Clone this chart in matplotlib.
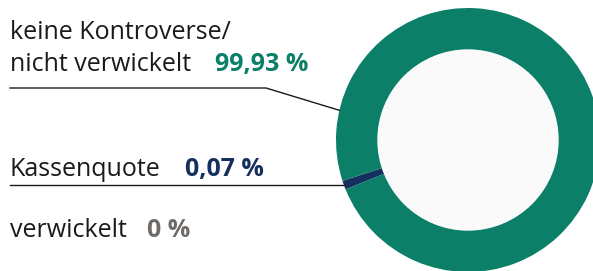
import numpy as np
import matplotlib.pyplot as plt
from matplotlib.patches import Circle

# Daten
labels = ["keine Kontroverse/\nnicht verwickelt", "Kassenquote", "verwickelt"]
values = [99.93, 0.07, 0.0]
colors = ["#0b7f67", "#15305e", "#706b66"]

W, H = 593, 271
plt.rcParams['font.family'] = ['Open Sans', 'DejaVu Sans']

fig = plt.figure(figsize=(W / 100, H / 100), dpi=100)
ax = fig.add_axes([0, 0, 1, 1])

cx, cy = 468, H - 140
r_out, r_in = 132, 90

# sehr kleine Segmente sichtbar machen (mind. ~4 Grad)
min_share = 1.1
shown = [max(v, min_share) if v > 0 else 0 for v in values]
blue_angle = 200
start = blue_angle - shown[1] / sum(shown) * 360 / 2
order = [1, 0]
ax.pie([shown[i] for i in order], colors=[colors[i] for i in order],
       startangle=start, counterclock=True, center=(cx, cy), radius=r_out,
       wedgeprops=dict(width=r_out - r_in, linewidth=0))
ax.add_patch(Circle((cx, cy), r_in, color="#fafafa", zorder=3))

ax.set_xlim(0, W)
ax.set_ylim(0, H)
ax.set_aspect('equal')
ax.axis('off')


def fmt(v):
    if v == 0:
        return "0 %"
    return f"{v:.2f}".replace('.', ',') + " %"


fs = 18
txt = "#1a1a1a"
# Beschriftungen (Textposition, Wertposition in Pixeln)
ax.text(10, H - 39, "keine Kontroverse/", fontsize=fs, color=txt)
ax.text(10, H - 71, "nicht verwickelt", fontsize=fs, color=txt)
ax.text(215, H - 71, fmt(values[0]), fontsize=fs, color=colors[0], fontweight='bold')

ax.text(10, H - 176, "Kassenquote", fontsize=fs, color=txt)
ax.text(185, H - 176, fmt(values[1]), fontsize=fs, color=colors[1], fontweight='bold')

ax.text(10, H - 237, "verwickelt", fontsize=fs, color=txt)
ax.text(147, H - 237, fmt(values[2]), fontsize=fs, color=colors[2], fontweight='bold')

# Verbindungslinien
a1 = np.deg2rad(167)
ax.plot([10, 266, cx + r_out * np.cos(a1)], [H - 88, H - 88, cy + r_out * np.sin(a1)],
        color=txt, lw=1, zorder=4)
a2 = np.deg2rad(blue_angle)
ax.plot([10, cx + r_out * np.cos(a2)], [H - 185, H - 185],
        color=txt, lw=1, zorder=4)

fig.savefig("out.png", dpi=100, facecolor="white")
